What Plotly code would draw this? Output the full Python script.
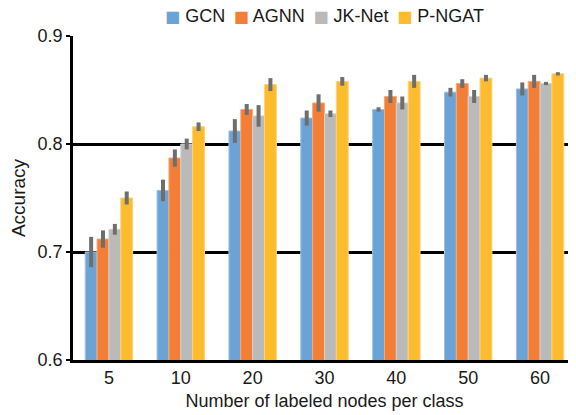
import plotly.graph_objects as go

categories = ["5", "10", "20", "30", "40", "50", "60"]
series_names = ["GCN", "AGNN", "JK-Net", "P-NGAT"]
gcn = [0.700, 0.757, 0.812, 0.824, 0.832, 0.848, 0.851]
gcn_err = [0.014, 0.010, 0.011, 0.007, 0.002, 0.004, 0.006]
agnn = [0.712, 0.787, 0.832, 0.838, 0.844, 0.856, 0.858]
agnn_err = [0.008, 0.008, 0.005, 0.008, 0.006, 0.004, 0.006]
jknet = [0.721, 0.800, 0.826, 0.828, 0.838, 0.844, 0.856]
jknet_err = [0.005, 0.005, 0.010, 0.003, 0.006, 0.006, 0.0015]
pngat = [0.750, 0.816, 0.855, 0.858, 0.858, 0.861, 0.865]
pngat_err = [0.006, 0.004, 0.006, 0.004, 0.006, 0.003, 0.0015]

values = [gcn, agnn, jknet, pngat]
errors = [gcn_err, agnn_err, jknet_err, pngat_err]
colors = ["#6CA3D6", "#F37F37", "#BABABA", "#FDBB2E"]
edges = ["#9CC2E6", "#F8A877", "#D2D2D2", "#FED273"]

fig = go.Figure()
for name, v, e, c, ec in zip(series_names, values, errors, colors, edges):
    fig.add_trace(go.Bar(
        name=name, x=categories, y=v, showlegend=False,
        marker=dict(color=c, line=dict(color=ec, width=1)),
        error_y=dict(type="data", array=e, color="#6E6E6E", thickness=4, width=0),
    ))

# legend drawn as a single line of text with coloured squares
legend_text = " &#8201;".join(
    f"<span style='color:{c};font-family:DejaVu Sans;font-size:16px'>■</span> {n}"
    for n, c in zip(series_names, colors)
)

font = "Arial, Liberation Sans, sans-serif"
txt = "#1A1A1A"
W, H = 568, 407  # page body has an 8px margin
T, B = 28, 55
fig.update_layout(
    width=W, height=H,
    margin=dict(l=65, r=0, t=T, b=B, autoexpand=False),
    paper_bgcolor="white", plot_bgcolor="white",
    barmode="group", bargap=0.34, bargroupgap=0,
    font=dict(family=font, size=18, color=txt),
    showlegend=False,
    annotations=[dict(
        text=legend_text, xref="paper", yref="paper",
        x=0.5, xanchor="center", y=((H - 8) - B) / (H - T - B),
        yanchor="middle", showarrow=False, font=dict(size=18, color=txt),
    )],
    xaxis=dict(
        type="category", showline=True, linecolor="black", linewidth=2.5,
        ticks="", showgrid=False, automargin=False,
        title=dict(text="Number of labeled nodes per class", font=dict(size=18), standoff=8),
        tickfont=dict(size=18),
    ),
    yaxis=dict(
        range=[0.6, 0.9], tickvals=[0.6, 0.7, 0.8, 0.9],
        ticktext=["0.6", "0.7", "0.8", "0.9"],
        showline=True, linecolor="black", linewidth=2.5,
        ticks="outside", ticklen=4, tickwidth=2, tickcolor="black",
        showgrid=True, gridcolor="black", gridwidth=3,
        zeroline=False, automargin=False,
        title=dict(text="Accuracy", font=dict(size=19), standoff=12),
        tickfont=dict(size=18),
    ),
)

fig.write_html("out.html")
